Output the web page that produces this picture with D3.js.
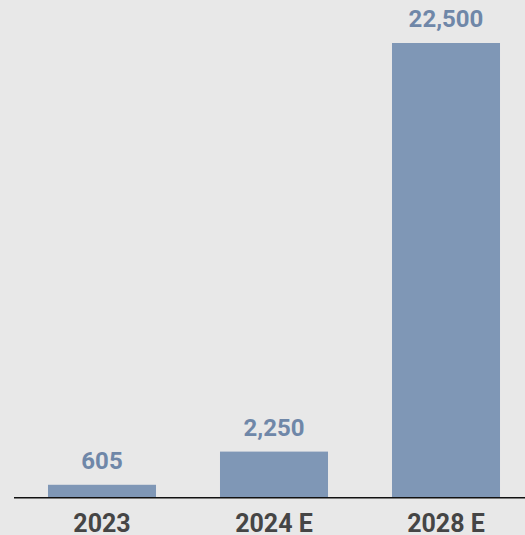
<!DOCTYPE html>
<html><head><meta charset="utf-8">
<script src="https://cdn.jsdelivr.net/npm/d3@7"></script>
<style>html,body{margin:0;padding:0;background:#e8e8e8;}</style>
</head><body>
<script>
const categories = ["2023", "2024 E", "2028 E"];
const values = [605, 2250, 22500];
const labels = ["605", "2,250", "22,500"];

const W = 525, H = 535;
const svg = d3.select("body").append("svg").attr("width", W).attr("height", H)
  .style("display","block").style("background","#e8e8e8");

const x = d3.scaleBand().domain(categories).range([16, 532]).paddingInner(0.372).paddingOuter(0.186);
const y = d3.scaleLinear().domain([0, 22500]).range([497, 43]);

svg.selectAll("rect.bar").data(values).enter().append("rect")
  .attr("class","bar")
  .attr("x", (d,i) => x(categories[i]))
  .attr("width", x.bandwidth())
  .attr("y", d => y(d))
  .attr("height", d => y(0) - y(d))
  .attr("fill", "#7f97b6");

svg.selectAll("text.val").data(values).enter().append("text")
  .attr("class","val")
  .attr("x", (d,i) => x(categories[i]) + x.bandwidth()/2)
  .attr("y", d => y(d) - 16)
  .attr("text-anchor","middle")
  .attr("font-family","Roboto, sans-serif")
  .attr("font-weight","bold")
  .attr("font-size","24px")
  .attr("fill","#6f87a8")
  .text((d,i) => labels[i]);

const axis = d3.axisBottom(x).tickSize(0).tickPadding(0);
const g = svg.append("g").attr("transform", `translate(0,${y(0)})`).call(axis);
g.select(".domain").remove();
g.append("line").attr("x1", 14).attr("x2", W).attr("y1", 0.75).attr("y2", 0.75)
  .attr("stroke", "#111").attr("stroke-width", 1.5);
g.selectAll(".tick text")
  .attr("dy", null).attr("y", 35)
  .attr("font-family","Roboto, sans-serif")
  .attr("font-weight","bold")
  .attr("font-size","25px")
  .attr("fill","#454545");
</script>
</body></html>
